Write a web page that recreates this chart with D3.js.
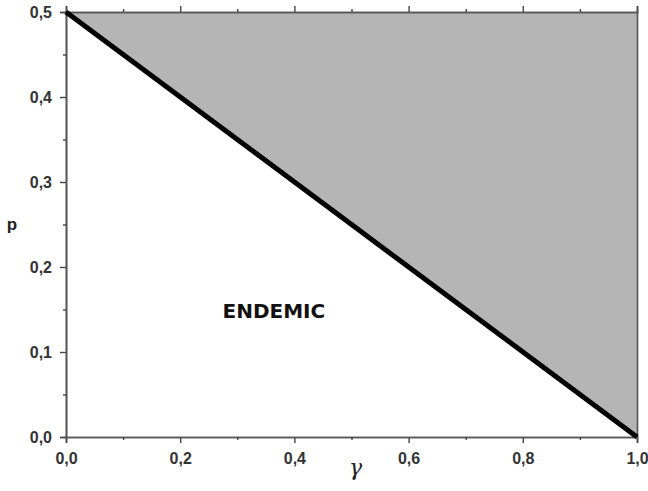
<!DOCTYPE html>
<html>
<head>
<meta charset="utf-8">
<script src="https://cdnjs.cloudflare.com/ajax/libs/d3/7.8.5/d3.min.js"></script>
<style>
  body { margin: 0; background: #fff; }
  svg { font-family: "Liberation Sans", Arial, sans-serif; }
</style>
</head>
<body>
<div id="chart"></div>
<script>
// boundary line p = (1 - gamma) / 2
const gammaVals = [0.0, 1.0];
const pVals = [0.5, 0.0];
const xTicks = [0, 0.2, 0.4, 0.6, 0.8, 1.0];
const yTicks = [0, 0.1, 0.2, 0.3, 0.4, 0.5];
const regionLabel = "ENDEMIC";

const margin = { top: 12, right: 11, bottom: 54, left: 66 },
    width = 648 - margin.left - margin.right,
    height = 491 - margin.top - margin.bottom;

const svg = d3.select("#chart")
    .append("svg")
    .attr("width", width + margin.left + margin.right)
    .attr("height", height + margin.top + margin.bottom)
    .append("g")
    .attr("transform", `translate(${margin.left},${margin.top})`);

const x = d3.scaleLinear().domain([0, 1]).range([0, width]);
const y = d3.scaleLinear().domain([0, 0.5]).range([height, 0]);

const line = gammaVals.map((g, i) => ({ g: g, p: pVals[i] }));

// grey region above the line
const region = [
    { g: gammaVals[0], p: pVals[0] },
    { g: gammaVals[1], p: y.domain()[1] },
    { g: gammaVals[1], p: pVals[1] }
];
svg.append("path")
    .datum(region)
    .attr("fill", "#b5b5b5")
    .attr("d", d3.line().x(d => x(d.g)).y(d => y(d.p)));

const fmt = d => d3.format(".1f")(d).replace(".", ",");
const minorX = d3.range(0.1, 1, 0.2);
const minorY = d3.range(0.05, 0.5, 0.1);

function styleAxis(g) {
    g.attr("font-family", null);
    g.selectAll("path.domain").attr("stroke", "#555").attr("stroke-width", 1.6);
    g.selectAll(".tick line").attr("stroke", "#444").attr("stroke-width", 1.4);
    g.selectAll(".tick text")
        .attr("fill", "#333")
        .style("font-family", "'Liberation Sans', Arial, sans-serif")
        .style("font-size", "16px")
        .style("font-weight", "bold");
}

// major axes
svg.append("g").attr("transform", `translate(0,${height})`)
    .call(d3.axisBottom(x).tickValues(xTicks).tickFormat(fmt).tickSize(6).tickPadding(10))
    .call(styleAxis);
svg.append("g")
    .call(d3.axisLeft(y).tickValues(yTicks).tickFormat(fmt).tickSize(6).tickPadding(8))
    .call(styleAxis);
svg.append("g")
    .call(d3.axisTop(x).tickValues(xTicks).tickFormat("").tickSize(6))
    .call(styleAxis);
svg.append("g").attr("transform", `translate(${width},0)`)
    .call(d3.axisRight(y).tickValues([]).tickSizeOuter(0))
    .call(styleAxis);

// minor ticks
svg.append("g").attr("transform", `translate(0,${height})`)
    .call(d3.axisBottom(x).tickValues(minorX).tickFormat("").tickSize(3))
    .call(styleAxis);
svg.append("g")
    .call(d3.axisLeft(y).tickValues(minorY).tickFormat("").tickSize(3))
    .call(styleAxis);
svg.append("g")
    .call(d3.axisTop(x).tickValues(minorX).tickFormat("").tickSize(3))
    .call(styleAxis);

// boundary line
svg.append("path")
    .datum(line)
    .attr("fill", "none")
    .attr("stroke", "#000")
    .attr("stroke-width", 5)
    .attr("d", d3.line().x(d => x(d.g)).y(d => y(d.p)));

// region label
svg.append("text")
    .attr("x", x(0.364))
    .attr("y", y(0.147))
    .attr("text-anchor", "middle")
    .attr("dominant-baseline", "middle")
    .style("font-family", "'DejaVu Sans', sans-serif")
    .style("font-size", "20px")
    .style("font-weight", "bold")
    .attr("fill", "#111")
    .text(regionLabel);

// axis titles
svg.append("text")
    .attr("x", x(0.5) + 4)
    .attr("y", height + 38)
    .attr("text-anchor", "middle")
    .style("font-family", "'DejaVu Serif', 'Liberation Serif', serif")
    .style("font-style", "italic")
    .style("font-size", "22px")
    .attr("fill", "#222")
    .text("γ");
svg.append("text")
    .attr("x", -margin.left + 12)
    .attr("y", y(0.25) + 1)
    .attr("text-anchor", "middle")
    .attr("dominant-baseline", "middle")
    .style("font-size", "17px")
    .style("font-weight", "bold")
    .attr("fill", "#222")
    .text("p");
</script>
</body>
</html>
